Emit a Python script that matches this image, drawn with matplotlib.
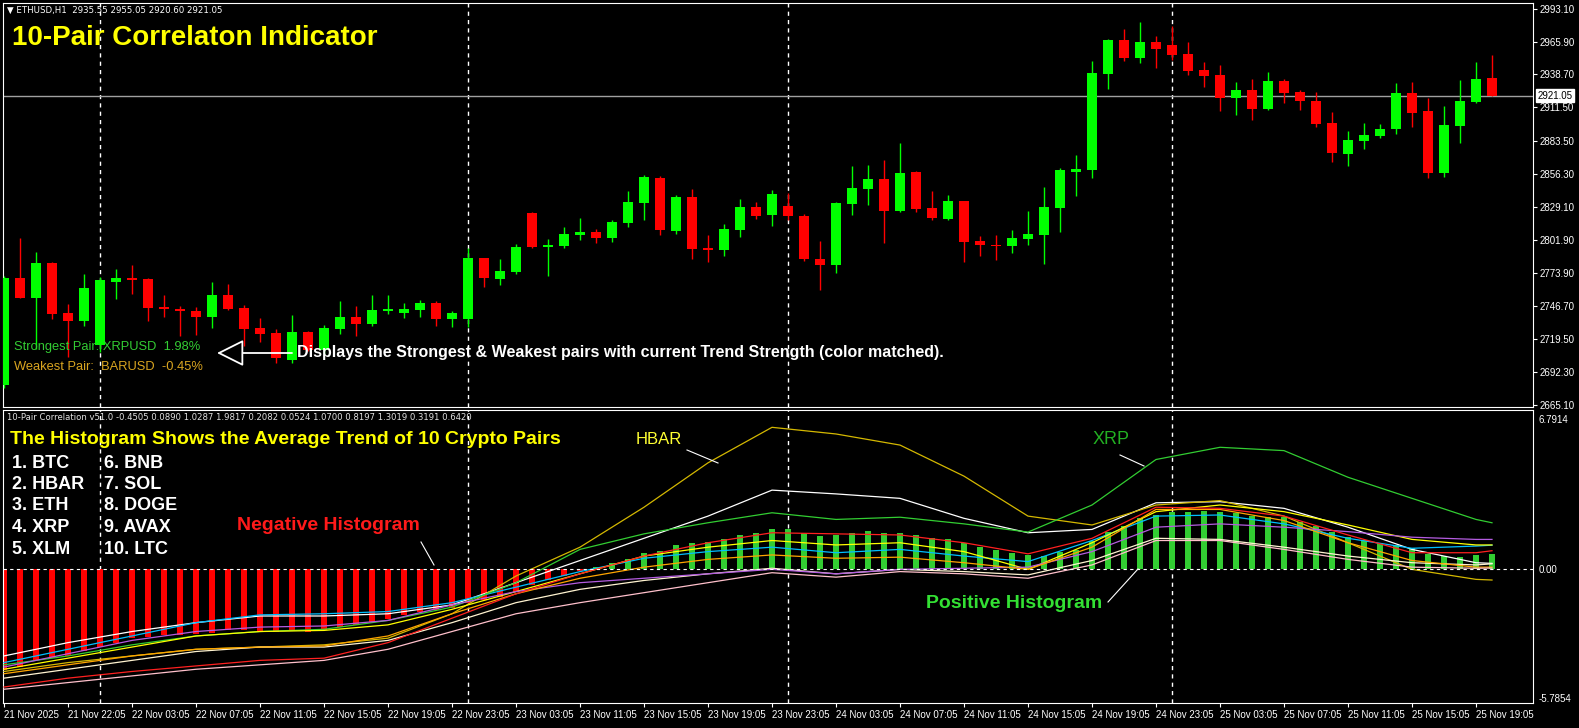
import numpy as np
import matplotlib.pyplot as plt

plt.rcParams['font.family'] = ['Liberation Sans', 'DejaVu Sans']

W, H = 1579, 728

# ---- ETHUSD H1 candles ----
opens = [2681.5, 2770.4, 2753.9, 2782.6, 2741.2, 2734.8, 2714.9, 2767.2, 2770.4, 2769.6,
         2746.2, 2744.7, 2742.6, 2737.9, 2755.9, 2745.3, 2728.7, 2724.4, 2702.6, 2725.8,
         2710.5, 2727.9, 2737.9, 2732.1, 2742.4, 2740.9, 2743.6, 2749.4, 2736.2, 2736.4,
         2786.3, 2769.2, 2775.1, 2824.0, 2795.8, 2796.7, 2806.1, 2808.3, 2803.3, 2815.7,
         2832.3, 2853.0, 2809.4, 2837.3, 2795.0, 2793.6, 2810.2, 2829.0, 2822.6, 2830.0,
         2821.5, 2786.0, 2781.3, 2831.7, 2844.0, 2852.0, 2825.9, 2857.7, 2827.9, 2818.9,
         2833.6, 2801.0, 2797.3, 2796.7, 2802.5, 2805.8, 2828.4, 2858.2, 2860.0, 2939.4,
         2967.3, 2952.7, 2965.7, 2963.2, 2956.0, 2942.5, 2938.3, 2919.3, 2925.9, 2910.2,
         2933.4, 2924.3, 2916.8, 2898.6, 2872.9, 2883.7, 2887.8, 2893.6, 2923.4, 2908.5,
         2857.2, 2896.1, 2916.2, 2935.55]
highs = [2772.0, 2803.6, 2791.7, 2783.0, 2748.6, 2773.5, 2771.2, 2777.6, 2780.9, 2770.0,
         2756.4, 2747.3, 2746.2, 2766.9, 2765.0, 2747.8, 2737.3, 2728.3, 2739.5, 2726.2,
         2731.5, 2751.1, 2747.3, 2756.0, 2756.4, 2749.4, 2751.9, 2750.8, 2742.8, 2795.3,
         2787.0, 2786.2, 2798.3, 2825.1, 2802.5, 2812.4, 2819.9, 2810.8, 2818.2, 2842.2,
         2855.5, 2854.7, 2838.9, 2844.1, 2805.8, 2814.9, 2835.6, 2833.1, 2843.3, 2840.6,
         2823.1, 2800.9, 2833.1, 2862.8, 2863.6, 2867.9, 2881.8, 2858.5, 2842.2, 2838.9,
         2834.2, 2805.2, 2805.8, 2809.7, 2825.7, 2845.6, 2861.0, 2872.1, 2950.0, 2968.2,
         2976.5, 2982.3, 2970.7, 2978.9, 2965.7, 2949.4, 2946.6, 2932.5, 2935.0, 2940.8,
         2935.0, 2925.9, 2924.3, 2907.7, 2892.0, 2898.6, 2897.8, 2931.7, 2932.5, 2919.3,
         2912.7, 2934.2, 2949.1, 2955.05]
lows = [2679.0, 2753.4, 2711.3, 2735.9, 2704.5, 2730.4, 2708.6, 2753.1, 2757.2, 2734.5,
        2738.1, 2722.4, 2723.0, 2728.5, 2743.4, 2713.8, 2717.4, 2700.1, 2699.8, 2709.7,
        2707.2, 2723.8, 2722.1, 2730.3, 2740.6, 2736.9, 2737.8, 2730.5, 2729.5, 2729.9,
        2763.0, 2764.2, 2773.5, 2795.0, 2772.1, 2795.2, 2801.7, 2799.4, 2799.9, 2812.7,
        2818.2, 2806.1, 2806.9, 2785.9, 2783.5, 2788.6, 2804.4, 2819.3, 2813.5, 2817.8,
        2784.6, 2760.2, 2774.6, 2822.3, 2830.6, 2798.9, 2825.1, 2825.1, 2817.8, 2818.1,
        2783.4, 2788.6, 2785.1, 2791.1, 2797.5, 2782.1, 2808.5, 2838.4, 2853.3, 2926.9,
        2950.2, 2948.5, 2944.4, 2950.8, 2938.3, 2928.4, 2908.1, 2905.4, 2901.1, 2909.0,
        2915.1, 2909.3, 2895.3, 2866.3, 2863.0, 2877.0, 2886.2, 2889.5, 2895.3, 2853.0,
        2854.1, 2882.0, 2914.9, 2920.60]
closes = [2770.4, 2753.9, 2782.6, 2740.6, 2734.8, 2761.9, 2768.5, 2770.0, 2768.7, 2745.6,
          2744.1, 2742.4, 2737.9, 2755.9, 2744.4, 2727.9, 2723.9, 2704.0, 2725.8, 2710.5,
          2728.7, 2737.9, 2732.3, 2743.7, 2744.1, 2744.4, 2749.4, 2736.2, 2740.9, 2786.3,
          2770.4, 2775.6, 2795.8, 2795.8, 2797.5, 2806.6, 2808.3, 2803.3, 2816.6, 2833.1,
          2853.8, 2810.2, 2837.3, 2794.4, 2793.6, 2810.7, 2829.0, 2821.8, 2839.8, 2821.1,
          2786.1, 2781.3, 2832.3, 2844.6, 2852.0, 2825.9, 2856.9, 2827.3, 2819.8, 2833.6,
          2800.1, 2797.7, 2796.7, 2803.1, 2806.4, 2829.0, 2859.6, 2860.5, 2940.1, 2967.3,
          2952.7, 2965.7, 2959.9, 2954.9, 2941.7, 2937.5, 2919.3, 2925.9, 2910.2, 2933.4,
          2923.4, 2916.8, 2897.8, 2873.7, 2884.5, 2888.6, 2893.6, 2923.4, 2906.8, 2857.2,
          2897.0, 2916.8, 2934.9, 2921.05]

time_labels = ['21 Nov 2025', '21 Nov 22:05', '22 Nov 03:05', '22 Nov 07:05', '22 Nov 11:05',
               '22 Nov 15:05', '22 Nov 19:05', '22 Nov 23:05', '23 Nov 03:05', '23 Nov 11:05',
               '23 Nov 15:05', '23 Nov 19:05', '23 Nov 23:05', '24 Nov 03:05', '24 Nov 07:05',
               '24 Nov 11:05', '24 Nov 15:05', '24 Nov 19:05', '24 Nov 23:05', '25 Nov 03:05',
               '25 Nov 07:05', '25 Nov 11:05', '25 Nov 15:05', '25 Nov 19:05']
label_bars = list(range(0, 94, 4))
separator_bars = [6, 29, 49, 73]
price_ticks = [2993.10, 2965.90, 2938.70, 2911.50, 2883.50, 2856.30, 2829.10,
               2801.90, 2773.90, 2746.70, 2719.50, 2692.30, 2665.10]
last_price = 2921.05

# ---- indicator: average trend histogram ----
hist = [-4.54, -4.39, -4.09, -3.98, -3.90, -3.68, -3.51, -3.30, -3.09, -3.04,
        -2.97, -2.95, -2.93, -2.86, -2.73, -2.73, -2.77, -2.84, -2.77, -2.81,
        -2.73, -2.61, -2.50, -2.36, -2.25, -2.06, -1.94, -1.83, -1.76, -1.53,
        -1.38, -1.23, -1.01, -0.72, -0.49, -0.29, -0.06, 0.10, 0.27, 0.46,
        0.72, 0.82, 1.09, 1.20, 1.24, 1.36, 1.54, 1.62, 1.82, 1.82,
        1.62, 1.51, 1.54, 1.62, 1.73, 1.62, 1.62, 1.54, 1.42, 1.35,
        1.17, 1.02, 0.87, 0.75, 0.64, 0.60, 0.77, 0.87, 1.27, 1.67,
        1.96, 2.30, 2.45, 2.59, 2.59, 2.63, 2.57, 2.52, 2.40, 2.34,
        2.34, 2.13, 1.95, 1.67, 1.47, 1.32, 1.17, 1.09, 0.95, 0.68,
        0.60, 0.57, 0.64, 0.69]

# ---- the 10 pair trend lines, sampled every 4 bars ----
line_bars = list(range(0, 93, 4)) + [93]
btc  = [-3.9, -3.3, -2.8, -2.4, -2.1, -2.1, -2.0, -1.6, -0.6, 0.4, 1.4, 2.4, 3.57,
        3.4, 3.2, 2.3, 1.65, 1.8, 3.0, 3.05, 2.75, 1.9, 0.9, 0.3, 0.27]
hbar = [-4.6, -4.2, -3.9, -3.6, -3.5, -3.4, -3.1, -2.0, -0.3, 1.0, 2.8, 4.8, 6.4,
        6.1, 5.6, 4.2, 2.4, 2.0, 2.9, 3.1, 2.4, 1.2, 0.0, -0.45, -0.48]
eth  = [-4.2, -3.6, -3.0, -2.4, -2.05, -2.0, -1.9, -1.5, -0.8, -0.1, 0.5, 0.8, 1.0,
        0.75, 0.9, 0.6, 0.35, 1.3, 2.4, 2.45, 2.05, 1.4, 0.95, 1.05, 1.09]
xrp  = [-4.3, -3.9, -3.4, -3.0, -2.8, -2.7, -2.3, -1.7, -0.6, 0.9, 1.6, 2.1, 2.55,
        2.25, 2.35, 2.05, 1.68, 2.9, 4.95, 5.5, 5.35, 4.15, 3.2, 2.25, 2.10]
xlm  = [-4.9, -4.5, -4.1, -3.7, -3.5, -3.5, -3.2, -2.4, -1.5, -0.9, -0.5, -0.2, 0.05,
        -0.2, 0.0, -0.1, -0.25, 0.4, 1.4, 1.35, 1.0, 0.6, 0.3, 0.2, 0.25]
bnb  = [-4.5, -4.0, -3.5, -3.0, -2.8, -2.75, -2.5, -1.8, -1.0, -0.2, 0.6, 1.0, 1.3,
        1.1, 1.2, 0.8, 0.0, 1.2, 2.6, 2.9, 2.6, 2.0, 1.35, 1.1, 1.1]
sol  = [-4.4, -3.8, -3.2, -2.8, -2.6, -2.55, -2.3, -1.6, -1.0, -0.6, -0.4, -0.2, 0.0,
        -0.2, 0.0, 0.05, 0.1, 0.8, 1.9, 2.05, 1.9, 1.7, 1.45, 1.35, 1.35]
doge = [-4.7, -4.3, -3.9, -3.6, -3.5, -3.45, -3.0, -2.0, -1.1, -0.4, 0.1, 0.45, 0.65,
        0.5, 0.55, 0.3, 0.0, 1.0, 2.7, 2.7, 2.2, 1.2, 0.4, 0.1, 0.1]
avax = [-5.3, -4.9, -4.6, -4.35, -4.1, -4.0, -3.3, -2.2, -1.1, -0.2, 0.6, 1.2, 1.65,
        1.6, 1.55, 1.2, 0.7, 1.4, 2.8, 2.75, 2.4, 1.55, 0.75, 0.75, 0.84]
ltc  = [-5.4, -5.1, -4.8, -4.5, -4.3, -4.1, -3.6, -2.8, -2.0, -1.5, -1.05, -0.6, -0.15,
        -0.35, -0.1, -0.2, -0.4, 0.2, 1.3, 1.3, 0.9, 0.45, 0.1, 0.05, 0.06]

line_colors = {'BTC': '#FFFFFF', 'HBAR': '#D4B800', 'ETH': '#00BFFF', 'XRP': '#32CD32',
               'XLM': '#FFF3D0', 'BNB': '#FFFF00', 'SOL': '#B45CE0', 'DOGE': '#FFA500',
               'AVAX': '#FF2020', 'LTC': '#FFC0CB'}

fig = plt.figure(figsize=(W / 100, H / 100), dpi=100, facecolor='black')

n = len(opens)
bars = np.arange(n)
xlo = -1 / 16
xhi = xlo + 1530 / 16

# price panel
ax = fig.add_axes([3 / W, 1 - 407 / H, 1530 / W, 404 / H], facecolor='black')
o = np.array(opens); c = np.array(closes)
up = c >= o
col = np.where(up, '#00FF00', '#FF0000')
ax.vlines(bars, lows, highs, colors=col, lw=1, zorder=3)
body_low = np.minimum(o, c)
body_h = np.maximum(np.abs(c - o), 1.0)
ax.bar(bars, body_h, bottom=body_low, width=0.66, color=col, lw=0, zorder=4)
ax.axhline(last_price, color='#A0A0A0', lw=1, zorder=2)
for b in separator_bars:
    ax.axvline(b, color='white', lw=1, dashes=(3, 3), zorder=1)
ax.set_xlim(xlo, xhi)
ax.set_ylim(2663.3, 2997.9)
ax.yaxis.tick_right()
ax.set_yticks(price_ticks)
ax.set_yticklabels(['%.2f' % p for p in price_ticks])
ax.tick_params(axis='y', colors='white', labelsize=7, length=3, pad=2)
ax.set_xticks([])
for s in ax.spines.values():
    s.set_color('white')
ax.text(1.003, last_price, '%.2f' % last_price, transform=ax.get_yaxis_transform(),
        fontsize=7, color='black', va='center', ha='left',
        bbox=dict(boxstyle='square,pad=0.15', fc='white', ec='white'), clip_on=False)

# indicator panel
ax2 = fig.add_axes([3 / W, 1 - 703 / H, 1530 / W, 293 / H], facecolor='black')
hcol = ['#32CD32' if v >= 0 else '#FF0000' for v in hist]
hwid = [0.36 if v >= 0 else 0.32 for v in hist]
ax2.bar(bars, hist, width=hwid, color=hcol, lw=0, zorder=2)
series = [btc, hbar, eth, xrp, xlm, bnb, sol, doge, avax, ltc]
for name, vals in zip(line_colors, series):
    ax2.plot(line_bars, vals, color=line_colors[name], lw=0.9, zorder=3)
ax2.axhline(0, color='white', lw=0.8, dashes=(3, 3), zorder=4)
for b in separator_bars:
    ax2.axvline(b, color='white', lw=1, dashes=(3, 3), zorder=1)
ax2.set_xlim(xlo, xhi)
ax2.set_ylim(-6.02, 7.18)
ax2.yaxis.tick_right()
ax2.set_yticks([6.7914, 0.0, -5.7854])
ax2.set_yticklabels(['6.7914', '0.00', '-5.7854'])
ax2.tick_params(axis='y', colors='white', labelsize=7, length=0, pad=4)
ax2.set_xticks(label_bars)
ax2.set_xticklabels(time_labels)
ax2.tick_params(axis='x', colors='white', labelsize=7, length=3, pad=2)
for lab in ax2.get_xticklabels():
    lab.set_ha('left')
for s in ax2.spines.values():
    s.set_color('white')

# overlay in pixel coordinates for the annotations
ov = fig.add_axes([0, 0, 1, 1])
ov.set_xlim(0, W)
ov.set_ylim(H, 0)
ov.axis('off')
ov.patch.set_alpha(0)

ov.text(7, 10, '\u25BC ETHUSD,H1  2935.55 2955.05 2920.60 2921.05', color='white',
        fontsize=6.2, va='center', family=['DejaVu Sans'])
ov.text(12, 38, '10-Pair Correlaton Indicator', color='#FFFF00', fontsize=20,
        fontweight='bold', va='center')
ov.text(14, 347, 'Strongest Pair: XRPUSD  1.98%', color='#33CC33', fontsize=9.3,
        va='center')
ov.text(14, 367, 'Weakest Pair:  BARUSD  -0.45%', color='#DAA520', fontsize=9.3,
        va='center')
ov.annotate('', xy=(217, 353), xytext=(292, 353),
            arrowprops=dict(arrowstyle='-|>,head_length=1.4,head_width=0.7',
                            fc='black', ec='white', lw=1.3, mutation_scale=12,
                            shrinkA=0, shrinkB=0))
ov.text(297, 353, 'Displays the Strongest & Weakest pairs with current Trend Strength (color matched).',
        color='white', fontsize=11.5, fontweight='bold', va='center')

ov.text(7, 418, '10-Pair Correlation v51.0 -0.4505 0.0890 1.0287 1.9817 0.2082 0.0524 '
        '1.0700 0.8197 1.3019 0.3191 0.6420', color='#E0E0E0', fontsize=6.15, va='center',
        family=['DejaVu Sans'])
ov.text(10, 439, 'The Histogram Shows the Average Trend of 10 Crypto Pairs', color='#FFFF00',
        fontsize=14, fontweight='bold', va='center')
for i, name in enumerate(['1. BTC', '2. HBAR', '3. ETH', '4. XRP', '5. XLM']):
    ov.text(12, 463 + i * 21.5, name, color='white', fontsize=13, fontweight='bold', va='center')
for i, name in enumerate(['6. BNB', '7. SOL', '8. DOGE', '9. AVAX', '10. LTC']):
    ov.text(104, 463 + i * 21.5, name, color='white', fontsize=13, fontweight='bold', va='center')

ov.text(237, 526, 'Negative Histogram', color='#FF1A1A', fontsize=14, fontweight='bold', va='center')
ov.plot([421, 434], [542, 565], color='white', lw=0.8)
ov.text(636, 440, 'HBAR', color='#FFFF33', fontsize=12, va='center')
ov.plot([687, 718], [450, 463], color='white', lw=0.8)
ov.text(1093, 440, 'XRP', color='#22B022', fontsize=13, va='center')
ov.plot([1120, 1144], [455, 466], color='white', lw=0.8)
ov.text(926, 604, 'Positive Histogram', color='#33E033', fontsize=14, fontweight='bold', va='center')
ov.plot([1108, 1138], [602, 569], color='white', lw=0.8)

fig.savefig('out.png', dpi=100, facecolor='black')
